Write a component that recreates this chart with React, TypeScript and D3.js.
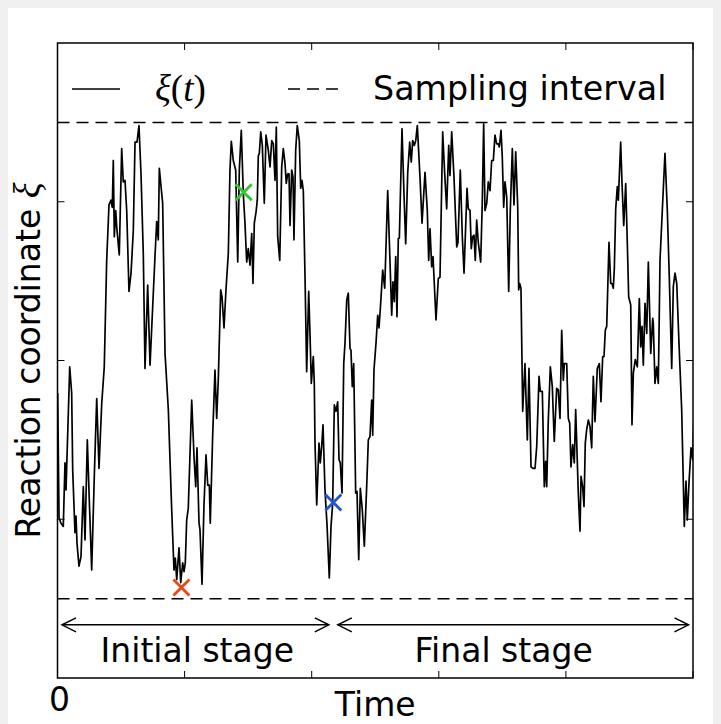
import React from 'react';
import * as d3 from 'd3';

// time axis (arbitrary units) and reaction coordinate values
const times = [
  0.003, 0.024, 0.055, 0.091, 0.118, 0.134, 0.192, 0.223, 0.239, 0.275,
  0.291, 0.307, 0.338, 0.370, 0.406, 0.433, 0.469, 0.500, 0.538, 0.579,
  0.617, 0.653, 0.696, 0.736, 0.774, 0.810, 0.842, 0.862, 0.878, 0.894,
  0.916, 0.932, 0.972, 1.010, 1.035, 1.062, 1.089, 1.125, 1.157, 1.193,
  1.220, 1.251, 1.282, 1.314, 1.350, 1.377, 1.419, 1.456, 1.498, 1.534,
  1.561, 1.586, 1.602, 1.655, 1.692, 1.744, 1.797, 1.833, 1.854, 1.876,
  1.912, 1.939, 1.970, 1.991, 2.011, 2.033, 2.058, 2.112, 2.148, 2.175,
  2.195, 2.227, 2.242, 2.274, 2.305, 2.337, 2.364, 2.389, 2.404, 2.442,
  2.478, 2.505, 2.530, 2.568, 2.589, 2.620, 2.651, 2.688, 2.714, 2.735,
  2.766, 2.804, 2.836, 2.861, 2.892, 2.924, 2.950, 2.977, 3.002, 3.029,
  3.056, 3.076, 3.097, 3.124, 3.144, 3.160, 3.176, 3.198, 3.223, 3.254,
  3.281, 3.317, 3.344, 3.371, 3.396, 3.423, 3.443, 3.465, 3.497, 3.528,
  3.553, 3.580, 3.600, 3.622, 3.643, 3.659, 3.685, 3.706, 3.721, 3.748,
  3.773, 3.805, 3.827, 3.847, 3.868, 3.895, 3.921, 3.953, 3.973, 3.994,
  4.025, 4.041, 4.052, 4.079, 4.115, 4.135, 4.157, 4.178, 4.209, 4.241,
  4.277, 4.304, 4.330, 4.356, 4.382, 4.409, 4.430, 4.450, 4.477, 4.504,
  4.524, 4.551, 4.576, 4.603, 4.618, 4.639, 4.661, 4.692, 4.713, 4.740,
  4.765, 4.796, 4.828, 4.865, 4.891, 4.917, 4.944, 4.960, 4.980, 5.012,
  5.039, 5.059, 5.079, 5.117, 5.149, 5.196, 5.221, 5.259, 5.279, 5.300,
  5.322, 5.342, 5.363, 5.379, 5.421, 5.452, 5.479, 5.511, 5.542, 5.567,
  5.589, 5.615, 5.637, 5.662, 5.704, 5.736, 5.783, 5.819, 5.841, 5.862,
  5.888, 5.909, 5.956, 5.992, 6.019, 6.061, 6.093, 6.124, 6.156, 6.176,
  6.203, 6.239, 6.282, 6.302, 6.338, 6.370, 6.397, 6.444, 6.464, 6.491,
  6.511, 6.533, 6.554, 6.574, 6.596, 6.621, 6.659, 6.684, 6.706, 6.727,
  6.754, 6.779, 6.806, 6.832, 6.858, 6.884, 6.911, 6.936, 6.952, 6.979,
  6.999, 7.021, 7.042, 7.069, 7.100, 7.125, 7.157, 7.183, 7.210, 7.242,
  7.257, 7.273, 7.293, 7.320, 7.356, 7.393, 7.419, 7.451, 7.487, 7.514,
  7.541, 7.577, 7.597, 7.629, 7.660, 7.682, 7.698, 7.723, 7.755, 7.786,
  7.817, 7.855, 7.880, 7.907, 7.934, 7.959, 7.975, 8.013, 8.038, 8.060,
  8.080, 8.107, 8.132, 8.154, 8.195, 8.222, 8.238, 8.264, 8.285, 8.305,
  8.327, 8.353, 8.379, 8.406, 8.431, 8.458, 8.494, 8.526, 8.552, 8.579,
  8.600, 8.620, 8.642, 8.678, 8.705, 8.725, 8.746, 8.762, 8.784, 8.809,
  8.825, 8.862, 8.883, 8.910, 8.941, 8.966, 8.988, 9.020, 9.040, 9.061,
  9.092, 9.124, 9.155, 9.177, 9.198, 9.218, 9.245, 9.272, 9.297, 9.335,
  9.366, 9.375, 9.402, 9.429, 9.454, 9.481, 9.517, 9.559, 9.596, 9.627,
  9.665, 9.690, 9.717, 9.744, 9.784, 9.822, 9.863, 9.890, 9.910, 9.937,
  9.969, 9.995, 10.016,
];

const xi = [
  2.59, 1.02, 0.95, 0.91, 1.71, 1.37, 2.92, 2.59, 1.62, 0.83,
  1.04, 0.70, 0.41, 0.53, 1.41, 0.74, 2.00, 1.25, 0.36, 1.54,
  2.52, 1.64, 2.46, 2.92, 4.26, 4.96, 5.02, 4.93, 5.52, 4.56,
  4.89, 4.68, 4.33, 5.67, 5.25, 5.27, 4.89, 3.87, 4.10, 4.64,
  5.75, 5.75, 5.96, 5.35, 4.35, 2.90, 3.95, 2.94, 3.68, 4.31,
  4.75, 4.52, 5.42, 4.98, 3.09, 2.38, 1.12, 0.36, 0.51, 0.24,
  0.64, 0.20, 0.45, 0.34, 0.45, 0.99, 1.14, 2.50, 1.79, 1.41,
  1.90, 0.95, 0.87, 0.18, 1.18, 1.81, 1.43, 1.43, 0.95, 2.06,
  2.88, 2.27, 2.75, 3.89, 3.80, 3.41, 3.89, 4.35, 5.40, 5.76,
  5.52, 5.40, 4.24, 5.40, 5.90, 5.10, 4.73, 4.24, 4.41, 4.20,
  4.60, 3.97, 4.73, 4.87, 5.02, 5.58, 5.61, 5.88, 5.71, 4.98,
  5.84, 5.65, 5.44, 5.77, 5.73, 5.27, 5.94, 4.56, 4.26, 5.44,
  5.67, 5.48, 5.23, 5.35, 5.35, 4.70, 5.40, 5.31, 4.52, 5.65,
  5.96, 5.77, 5.17, 5.27, 5.14, 4.05, 2.86, 3.87, 3.34, 2.71,
  3.05, 2.71, 1.96, 1.18, 1.96, 1.71, 1.92, 2.19, 1.37, 0.93,
  0.26, 0.91, 1.20, 2.44, 2.36, 2.48, 1.75, 1.71, 1.33, 2.96,
  3.22, 3.76, 3.85, 3.15, 3.13, 2.67, 2.96, 1.33, 1.35, 0.49,
  1.39, 1.12, 0.66, 1.41, 2.00, 2.04, 2.50, 2.06, 2.88, 3.22,
  3.57, 3.41, 3.64, 4.14, 3.91, 5.14, 4.52, 3.57, 3.99, 3.74,
  4.31, 3.55, 4.54, 4.54, 5.92, 5.10, 4.47, 5.37, 5.75, 5.50,
  5.77, 5.71, 5.77, 5.96, 5.31, 4.73, 5.37, 4.89, 4.26, 4.66,
  4.18, 4.31, 3.51, 4.03, 4.05, 5.88, 5.35, 4.91, 5.71, 5.33,
  5.88, 5.31, 4.43, 4.49, 5.40, 4.56, 4.10, 5.17, 4.91, 4.89,
  4.41, 4.56, 4.58, 4.26, 4.77, 4.49, 4.24, 4.98, 5.98, 4.89,
  4.98, 5.25, 5.14, 5.52, 5.52, 5.84, 5.73, 5.73, 5.69, 5.90,
  5.56, 4.93, 5.25, 5.06, 3.87, 4.89, 5.67, 4.96, 5.63, 4.93,
  3.89, 3.97, 3.91, 2.36, 2.96, 2.00, 2.90, 1.66, 1.64, 1.64,
  1.92, 2.80, 2.61, 2.61, 1.41, 1.73, 1.41, 2.25, 2.92, 2.67,
  1.98, 2.65, 2.63, 2.27, 3.38, 2.75, 2.96, 2.96, 2.27, 2.21,
  1.66, 1.94, 1.71, 2.38, 1.33, 0.85, 1.54, 1.41, 1.16, 1.96,
  2.13, 2.25, 2.17, 1.90, 2.80, 2.23, 2.90, 2.96, 2.48, 3.05,
  3.05, 3.38, 3.43, 4.49, 3.97, 3.97, 3.91, 4.16, 4.91, 5.19,
  5.02, 5.75, 5.23, 4.70, 5.23, 4.49, 3.80, 3.70, 2.19, 2.84,
  3.01, 2.92, 3.78, 3.17, 3.43, 2.94, 3.72, 3.34, 4.24, 3.09,
  3.53, 3.47, 2.71, 2.92, 2.71, 4.26, 4.89, 5.61, 4.89, 4.05,
  2.90, 3.93, 4.10, 3.97, 3.13, 2.38, 0.91, 1.48, 0.99, 1.46,
  1.90, 1.75, 2.34,
];

// sampling interval bounds
const intervalBounds = [0, 6];
const yTicks = [1, 3, 5];
const xTicks = [0, 2, 4, 6, 8, 10];

// sampled configurations
const sampleTimes = [1.95, 2.93, 4.34];
const sampleValues = [0.14, 5.12, 1.21];
const sampleColors = ['#e2491b', '#33c433', '#1f56d8'];

// stages
const stageEdges = [0, 4.34, 10];
const stageNames = ['Initial stage', 'Final stage'];
const stageLabelAt = [2.2, 7.02];

const W = 705;
const H = 716;
const left = 57.5, right = 693, top = 43, bottom = 678;
const sans = 'DejaVu Sans, sans-serif';
const serif = 'Liberation Serif, DejaVu Serif, serif';

export default function App() {
  document.body.style.background = '#f0f0f0';

  const x = d3.scaleLinear().domain([0, 10]).range([left, right]);
  const y = d3.scaleLinear().domain([-1, 7]).range([bottom, top]);

  const pts = times.map((t, i) => [t, xi[i]] as [number, number]);
  const line = d3.line<[number, number]>().x(d => x(d[0])).y(d => y(d[1]));

  const arrowY = y(-0.33);
  const pad = 4.5;
  const head = (px: number, dir: number) =>
    `M${px + dir * 14},${arrowY - 7}L${px},${arrowY}L${px + dir * 14},${arrowY + 7}`;

  return (
    <svg width={W} height={H} style={{ display: 'block', background: '#fff' }}>
      <defs>
        <clipPath id="plotClip">
          <rect x={left} y={top} width={right - left} height={bottom - top} />
        </clipPath>
      </defs>
      <g transform="translate(-8,-8)">
        {/* trajectory */}
        <path d={line(pts) || ''} fill="none" stroke="#000" strokeWidth={1.7}
          strokeLinejoin="round" clipPath="url(#plotClip)" />

        {/* sampling interval */}
        {intervalBounds.map(v => (
          <line key={v} x1={left} x2={right} y1={y(v)} y2={y(v)}
            stroke="#000" strokeWidth={1.5} strokeDasharray="12,7" />
        ))}

        {/* sample markers */}
        {sampleTimes.map((t, i) => {
          const cx = x(t), cy = y(sampleValues[i]), s = 8;
          return (
            <path key={i} d={`M${cx - s},${cy - s}L${cx + s},${cy + s}M${cx - s},${cy + s}L${cx + s},${cy - s}`}
              stroke={sampleColors[i]} strokeWidth={2.8} fill="none" />
          );
        })}

        {/* stage arrows */}
        {stageNames.map((name, i) => {
          const x1 = x(stageEdges[i]) + pad, x2 = x(stageEdges[i + 1]) - pad;
          return (
            <g key={name} stroke="#000" strokeWidth={1.5} fill="none">
              <line x1={x1} x2={x2} y1={arrowY} y2={arrowY} />
              <path d={head(x1, 1)} />
              <path d={head(x2, -1)} />
            </g>
          );
        })}
        {stageNames.map((name, i) => (
          <text key={name} x={x(stageLabelAt[i])} y={662} textAnchor="middle"
            fontFamily={sans} fontSize={33}>{name}</text>
        ))}

        {/* frame */}
        <rect x={left} y={top} width={right - left} height={bottom - top}
          fill="none" stroke="#000" strokeWidth={1.5} />
        {xTicks.map(t => (
          <g key={t} stroke="#000" strokeWidth={1}>
            <line x1={x(t)} x2={x(t)} y1={bottom} y2={bottom - 7} />
            <line x1={x(t)} x2={x(t)} y1={top} y2={top + 7} />
          </g>
        ))}
        {yTicks.map(v => (
          <g key={v} stroke="#000" strokeWidth={1}>
            <line x1={left} x2={left + 7} y1={y(v)} y2={y(v)} />
            <line x1={right} x2={right - 7} y1={y(v)} y2={y(v)} />
          </g>
        ))}

        {/* axis labels */}
        <text x={x(0) + 2} y={711} textAnchor="middle" fontFamily={sans} fontSize={33}>0</text>
        <text x={(left + right) / 2} y={716} textAnchor="middle" fontFamily={sans} fontSize={33}>Time</text>
        <text transform={`translate(40,${(top + bottom) / 2}) rotate(-90)`} textAnchor="middle"
          fontFamily={sans} fontSize={33}>
          Reaction coordinate <tspan fontFamily={serif} fontStyle="italic" fontSize={37}>ξ</tspan>
        </text>

        {/* legend */}
        <line x1={72} x2={120} y1={89} y2={89} stroke="#000" strokeWidth={1.5} />
        <text x={155} y={101} fontFamily={serif} fontSize={37}>
          <tspan fontStyle="italic">ξ</tspan>(<tspan fontStyle="italic">t</tspan>)
        </text>
        <line x1={288} x2={340} y1={89} y2={89} stroke="#000" strokeWidth={1.5} strokeDasharray="12,7" />
        <text x={373} y={100} fontFamily={sans} fontSize={33.3}>Sampling interval</text>
      </g>
    </svg>
  );
}
